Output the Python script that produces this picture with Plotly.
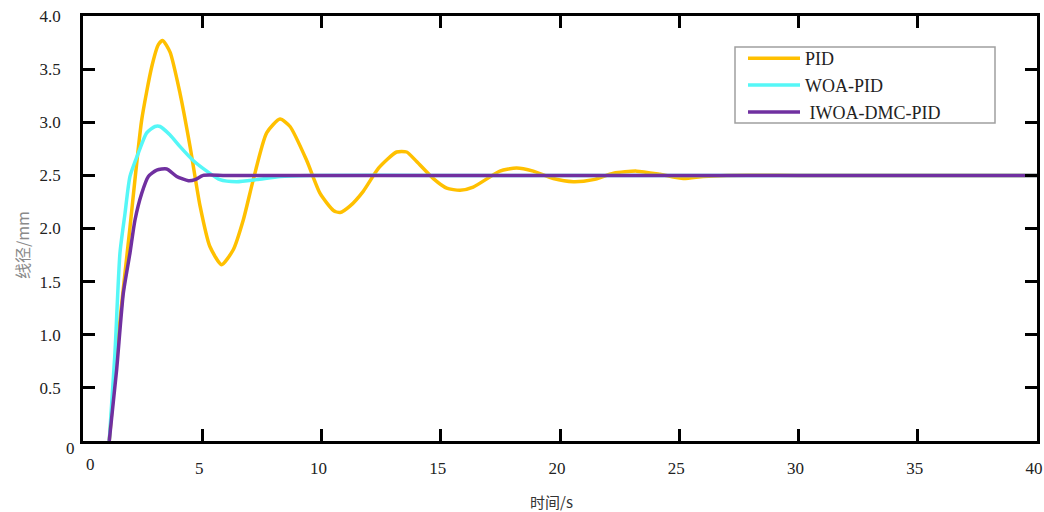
import plotly.graph_objects as go

# ---- data ----
pid_t = [1.1, 1.35, 1.55, 1.97, 2.46, 2.88, 3.16, 3.34, 3.65, 4.07, 4.49, 4.91, 5.32, 5.81,
         6.30, 6.72, 7.14, 7.70, 8.26, 8.68, 9.38, 9.94, 10.5, 10.78, 11.19, 11.75, 12.40,
         13.15, 13.57, 13.99, 14.69, 15.25, 15.81, 16.36, 17.48, 18.18, 18.88, 19.72, 20.56,
         21.40, 22.24, 23.21, 24.19, 25.17, 26.0, 27.0, 30.0, 35.0, 40.0]
pid_y = [0.0, 0.65, 1.14, 2.01, 3.02, 3.52, 3.73, 3.77, 3.66, 3.27, 2.77, 2.21, 1.83, 1.66,
         1.80, 2.08, 2.46, 2.90, 3.03, 2.96, 2.64, 2.33, 2.17, 2.15, 2.21, 2.35, 2.57,
         2.72, 2.72, 2.63, 2.47, 2.38, 2.36, 2.39, 2.54, 2.57, 2.54, 2.47, 2.44,
         2.46, 2.52, 2.54, 2.51, 2.47, 2.49, 2.50, 2.50, 2.50, 2.50]

woa_t = [1.1, 1.34, 1.55, 1.76, 1.97, 2.32, 2.67, 3.02, 3.23, 3.65, 4.07, 4.62, 5.19, 5.74,
         6.44, 7.28, 8.26, 9.5, 15.0, 25.0, 40.0]
woa_y = [0.0, 0.83, 1.77, 2.14, 2.49, 2.71, 2.90, 2.96, 2.96, 2.88, 2.77, 2.64, 2.54, 2.46,
         2.44, 2.46, 2.49, 2.50, 2.50, 2.50, 2.50]

iwoa_t = [1.1, 1.41, 1.69, 1.97, 2.18, 2.46, 2.74, 3.09, 3.51, 3.93, 4.42, 4.70, 5.04, 6.0,
          15.0, 25.0, 40.0]
iwoa_y = [0.0, 0.67, 1.39, 1.77, 2.08, 2.33, 2.49, 2.55, 2.56, 2.49, 2.45, 2.46, 2.50, 2.50,
          2.50, 2.50, 2.50]

x_ticks = [0, 5, 10, 15, 20, 25, 30, 35, 40]
x_ticktext = ["", "5", "10", "15", "20", "25", "30", "35", "40"]
y_ticks = [0, 0.5, 1.0, 1.5, 2.0, 2.5, 3.0, 3.5, 4.0]
y_ticktext = ["", "0.5", "1.0", "1.5", "2.0", "2.5", "3.0", "3.5", "4.0"]

names = ["PID", "WOA-PID", " IWOA-DMC-PID"]
colors = ["#FFC000", "#55F7F7", "#7030A0"]

FONT = "Liberation Serif"
CJK = "Noto Sans CJK SC"

W, H = 1044, 512
L, R, T, B = 83, 7, 16, 71
PW, PH = W - L - R, H - T - B


def px_x(p):
    return (p - L) / PW


def px_y(p):
    return (H - B - p) / PH


fig = go.Figure()
for i, (t, y) in enumerate([(pid_t, pid_y), (woa_t, woa_y), (iwoa_t, iwoa_y)]):
    fig.add_trace(go.Scatter(
        x=t, y=y, mode="lines", name=names[i], legendgroup=str(i),
        line=dict(color=colors[i], width=3.5, shape="spline", smoothing=0.6),
    ))

axis_common = dict(
    showgrid=False, zeroline=False, showline=True, linecolor="black", linewidth=2.5,
    mirror="ticks", ticks="inside", ticklen=12, tickwidth=2.5, tickcolor="black",
    tickfont=dict(family=FONT, size=17, color="#222"), automargin=False,
)

fig.update_xaxes(range=[0, 40], tickvals=x_ticks, ticktext=x_ticktext,
                 ticklabelstandoff=10, ticklabelshift=-3, **axis_common)
fig.update_yaxes(range=[0, 4.0], tickvals=y_ticks, ticktext=y_ticktext,
                 ticklabelstandoff=16, **axis_common)

fig.update_layout(
    width=W, height=H,
    margin=dict(l=L, r=R, t=T, b=B),
    plot_bgcolor="white", paper_bgcolor="white",
    showlegend=True,
    legend=dict(
        x=px_x(743), y=px_y(40), xanchor="left", yanchor="top",
        bgcolor="rgba(0,0,0,0)", borderwidth=0,
        font=dict(family=FONT, size=18, color="#222"),
        itemwidth=52, tracegroupgap=0.5,
    ),
    shapes=[
        dict(type="rect", xref="paper", yref="paper",
             x0=px_x(735), x1=px_x(995), y0=px_y(123), y1=px_y(47),
             line=dict(color="#A0A0A0", width=1.5), fillcolor="white", layer="below"),
    ],
    annotations=[
        dict(text="0", xref="paper", yref="paper", x=0, y=0, xanchor="right",
             yanchor="middle", xshift=-6, yshift=-7, showarrow=False,
             font=dict(family=FONT, size=17, color="#222")),
        dict(text="0", xref="paper", yref="paper", x=0, y=0, xanchor="center",
             yanchor="top", xshift=7, yshift=-12, showarrow=False,
             font=dict(family=FONT, size=17, color="#222")),
        dict(text="时间/s", xref="paper", yref="paper", x=px_x(551), y=0,
             xanchor="center", yanchor="middle", yshift=-(501 - (H - B)), showarrow=False,
             font=dict(family=CJK, size=15, color="#333")),
        dict(text="线径/mm", xref="paper", yref="paper", x=0, y=px_y(245),
             xanchor="center", yanchor="middle", xshift=-(L - 22), textangle=-90,
             showarrow=False, font=dict(family=CJK, size=16, color="#8a8a8a")),
    ],
)

fig.write_html("out.html", config={"displayModeBar": False},
               post_script="document.body.style.margin='0';")
